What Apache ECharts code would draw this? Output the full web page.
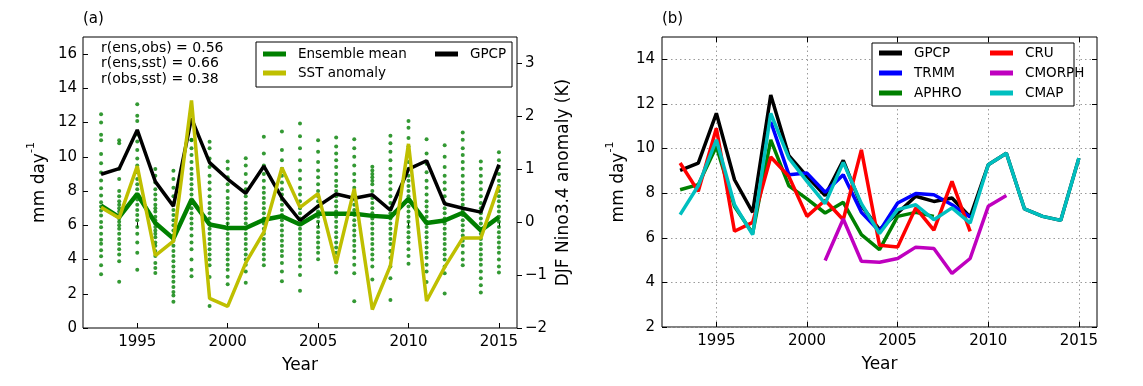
<!DOCTYPE html>
<html>
<head>
<meta charset="utf-8">
<script src="https://cdn.jsdelivr.net/npm/echarts@6/dist/echarts.min.js"></script>
<style>html,body{margin:0;padding:0;background:#fff}#c{width:1143px;height:386px}</style>
</head>
<body>
<div id="c"></div>
<script>
const years = [1993,1994,1995,1996,1997,1998,1999,2000,2001,2002,2003,2004,2005,2006,2007,2008,2009,2010,2011,2012,2013,2014,2015];
const xTicks = [1995,2000,2005,2010,2015];
const yTicksA = [0,2,4,6,8,10,12,14,16];
const yTicksSST = [-2,-1,0,1,2,3];
const yTicksB = [2,4,6,8,10,12,14];

// Panel (a)
const gpcpA = [8.98,9.31,11.57,8.55,7.12,12.25,9.66,8.7,7.87,9.45,7.6,6.28,7.12,7.83,7.58,7.78,6.88,9.28,9.77,7.26,7.0,6.77,9.55];
const ensMean = [7.15,6.48,7.83,6.13,5.22,7.5,6.05,5.84,5.84,6.32,6.53,6.05,6.67,6.67,6.67,6.55,6.48,7.54,6.13,6.28,6.73,5.7,6.48];
const sst = [0.28,0.08,1.06,-0.63,-0.36,2.3,-1.44,-1.59,-0.77,-0.19,1.03,0.28,0.54,-0.78,0.63,-1.65,-0.82,1.48,-1.49,-0.85,-0.3,-0.3,0.69];
const members = [
  [12.49,12.0,11.29,10.97,10.16,9.62,9.09,8.61,8.16,7.74,7.35,7.1,6.86,6.57,6.19,5.89,5.51,5.16,4.92,4.54,4.19,3.66,3.14],
  [10.97,10.8,9.3,8.7,8.0,7.7,7.4,7.2,7.0,6.8,6.6,6.4,6.2,6.0,5.8,5.5,5.2,4.9,4.6,4.3,3.9,2.7],
  [13.07,12.4,12.1,11.3,10.9,10.4,9.9,9.5,9.1,8.7,8.4,8.1,7.8,7.5,7.2,6.9,6.6,6.3,5.9,5.5,5.0,4.4,3.4],
  [9.29,8.9,8.5,8.1,7.8,7.5,7.2,7.0,6.8,6.5,6.3,6.1,5.9,5.7,5.5,5.3,5.0,4.8,4.5,4.2,3.8,3.5,3.22],
  [9.19,8.7,8.2,7.7,7.3,6.9,6.6,6.3,6.0,5.7,5.4,5.1,4.8,4.5,4.2,3.9,3.6,3.3,3.0,2.7,2.4,2.1,1.9,1.53],
  [11.0,10.97,10.5,10.1,9.7,9.3,9.0,8.7,8.4,8.1,7.8,7.5,7.3,7.0,6.7,6.4,6.1,5.8,5.4,5.0,4.6,4.0,3.4,3.02],
  [10.88,10.5,9.9,9.4,8.9,8.5,8.1,7.7,7.3,7.0,6.7,6.4,6.1,5.8,5.5,5.2,4.9,4.6,4.3,4.0,3.66,2.98,1.28],
  [9.73,9.3,8.8,8.4,8.0,7.6,7.3,7.0,6.7,6.4,6.1,5.8,5.5,5.2,4.9,4.6,4.3,4.0,3.7,3.4,3.0,2.56],
  [9.91,9.5,9.0,8.5,8.1,7.7,7.3,7.0,6.7,6.4,6.1,5.8,5.5,5.2,4.9,4.6,4.3,4.0,3.7,3.3,2.64],
  [11.17,10.2,9.5,9.0,8.6,8.2,7.9,7.6,7.3,7.0,6.7,6.4,6.1,5.8,5.5,5.2,4.9,4.6,4.3,4.0,3.66],
  [11.48,10.4,9.8,9.3,8.9,8.5,8.1,7.8,7.5,7.2,6.9,6.6,6.3,6.0,5.7,5.4,5.1,4.8,4.5,4.2,3.8,3.3,2.73],
  [11.94,11.2,10.5,9.8,9.2,8.7,8.2,7.8,7.4,7.0,6.7,6.4,6.1,5.8,5.5,5.2,4.9,4.6,4.3,4.0,3.6,3.1,2.17],
  [10.97,10.3,9.7,9.2,8.8,8.4,8.0,7.7,7.4,7.1,6.8,6.5,6.2,5.9,5.6,5.3,5.0,4.7,4.4,4.02],
  [11.13,10.6,10.2,9.8,9.4,9.0,8.6,8.3,8.0,7.7,7.4,7.1,6.8,6.5,6.2,5.9,5.6,5.3,5.0,4.7,4.4,4.0,3.6,3.24],
  [11.03,10.5,10.0,9.5,9.0,8.6,8.2,7.8,7.5,7.2,6.9,6.6,6.3,6.0,5.7,5.4,5.1,4.8,4.5,4.1,3.7,3.2,1.57],
  [9.42,9.2,9.0,8.8,8.6,8.4,8.0,7.6,7.3,7.0,6.7,6.4,6.1,5.8,5.5,5.2,4.9,4.6,4.3,4.0,3.6,2.83],
  [11.23,10.8,10.3,9.8,9.3,8.9,8.5,8.1,7.7,7.3,7.0,6.7,6.4,6.1,5.8,5.5,5.2,4.9,4.5,4.1,3.6,2.9,1.63],
  [12.1,11.7,11.1,10.6,10.1,9.7,9.3,8.9,8.6,8.3,8.0,7.7,7.4,7.1,6.8,6.5,6.2,5.9,5.6,5.3,5.0,4.6,4.2,3.76],
  [11.03,10.2,9.6,9.1,8.6,8.2,7.8,7.4,7.1,6.8,6.5,6.2,5.9,5.6,5.3,5.0,4.7,4.4,4.1,3.7,3.3,2.69],
  [10.68,10.0,9.4,8.9,8.5,8.1,7.7,7.3,7.0,6.7,6.4,6.1,5.8,5.5,5.2,4.9,4.6,4.3,4.0,3.6,3.2,2.02],
  [11.42,11.0,10.5,10.1,9.7,9.3,8.9,8.5,8.1,7.8,7.5,7.2,6.9,6.6,6.3,6.0,5.7,5.4,5.1,4.8,4.4,4.0,3.66],
  [9.73,9.3,8.9,8.5,8.1,7.7,7.3,7.0,6.7,6.4,6.1,5.8,5.5,5.2,4.9,4.6,4.3,4.0,3.7,3.3,2.9,2.5,2.08],
  [10.26,9.8,9.4,9.0,8.6,8.3,8.0,7.7,7.4,7.1,6.8,6.5,6.2,5.9,5.6,5.3,5.0,4.7,4.4,4.0,3.6,3.24]
];
const corrText = ['r(ens,obs) = 0.56','r(ens,sst) = 0.66','r(obs,sst) = 0.38'];

// Panel (b)
const gpcpB  = [9.02,9.35,11.58,8.6,7.14,12.4,9.68,8.75,7.89,9.47,7.44,6.37,7.11,7.86,7.63,7.78,6.93,9.27,9.79,7.29,6.96,6.78,9.57];
const trmmYears = [1998,1999,2000,2001,2002,2003,2004,2005,2006,2007,2008,2009];
const trmm   = [11.2,8.83,8.9,8.04,8.83,7.14,6.29,7.56,7.98,7.93,7.48,6.93];
const aphroYears = [1993,1994,1995,1996,1997,1998,1999,2000,2001,2002,2003,2004,2005,2006,2007];
const aphro  = [8.15,8.38,10.09,7.4,6.2,10.39,8.33,7.74,7.11,7.59,6.14,5.47,6.96,7.14,6.96];
const cruYears = [1993,1994,1995,1996,1997,1998,1999,2000,2001,2002,2003,2004,2005,2006,2007,2008,2009];
const cru    = [9.35,8.08,10.91,6.29,6.69,9.62,8.75,6.96,7.68,6.81,9.94,5.66,5.59,7.34,6.34,8.53,6.29];
const cmorphYears = [2001,2002,2003,2004,2005,2006,2007,2008,2009,2010,2011];
const cmorph = [4.98,6.84,4.95,4.9,5.07,5.58,5.52,4.4,5.07,7.41,7.89];
const cmap   = [7.04,8.33,10.39,7.48,6.14,11.58,9.57,8.53,7.53,9.38,7.53,6.19,7.26,7.48,6.81,7.34,6.66,9.27,9.79,7.29,6.96,6.78,9.57];

const FONT = 'DejaVu Sans';
const pair = (xs, ys) => xs.map((x, i) => [x, ys[i]]);
const memberPts = [];
members.forEach((arr, i) => arr.forEach(v => memberPts.push([years[i], v])));

const xBase = (gridIndex, pos, withLabel, grid) => ({
  type: 'value', gridIndex, position: pos, min: 1992, max: 2016,
  axisLine: { show: false },
  axisTick: { show: true, inside: true, length: 5, customValues: xTicks, lineStyle: { color: '#000' } },
  axisLabel: { show: withLabel, customValues: xTicks, margin: 7, fontSize: 15, fontFamily: FONT, color: '#000',
               formatter: v => String(v) },
  splitLine: { show: !!grid, lineStyle: { color: '#9a9a9a', type: [1.5, 3], width: 1 } },
  name: withLabel ? 'Year' : '', nameLocation: 'middle', nameGap: 29,
  nameTextStyle: { fontSize: 17, fontFamily: FONT, color: '#000' }
});

const nameRich = { a: { fontSize: 17, fontFamily: FONT, color: '#000', verticalAlign: 'bottom', lineHeight: 22 },
                   b: { fontSize: 11, fontFamily: FONT, color: '#000', verticalAlign: 'top', lineHeight: 22 } };

const legendItem = (name, left, cy) => ({
  data: [name], left, top: cy - 7, padding: 0, icon: 'rect', itemWidth: 23, itemHeight: 5,
  selectedMode: false, z: 60,
  textStyle: { fontSize: 13.5, fontFamily: FONT, color: '#000', padding: [0, 0, 0, 7] }
});

const lineSeries = (name, data, color, width, xi, yi, z) => ({
  name, type: 'line', data, xAxisIndex: xi, yAxisIndex: yi, showSymbol: false, symbol: 'none',
  color, lineStyle: { color, width }, z: z || 2, silent: true
});

const option = {
  animation: false,
  backgroundColor: '#fff',
  grid: [
    { left: 83, top: 37, width: 434, height: 291, show: true, borderColor: '#000', borderWidth: 1, backgroundColor: 'transparent' },
    { left: 662, top: 37, width: 435, height: 290, show: true, borderColor: '#000', borderWidth: 1, backgroundColor: 'transparent' }
  ],
  xAxis: [
    xBase(0, 'bottom', true, false),
    xBase(0, 'top', false, false),
    xBase(1, 'bottom', true, true),
    xBase(1, 'top', false, false)
  ],
  yAxis: [
    { type: 'value', gridIndex: 0, position: 'left', min: 0, max: 17,
      axisLine: { show: false },
      axisTick: { inside: true, length: 5, customValues: yTicksA, lineStyle: { color: '#000' } },
      axisLabel: { customValues: yTicksA, margin: 6, fontSize: 15, fontFamily: FONT, color: '#000' },
      splitLine: { show: false },
      name: '{a|mm day}{b|-1}', nameLocation: 'middle', nameGap: 35, nameTextStyle: { rich: nameRich } },
    { type: 'value', gridIndex: 0, position: 'right', min: -2, max: 3.5,
      axisLine: { show: false },
      axisTick: { inside: false, length: 5, customValues: yTicksSST, lineStyle: { color: '#000' } },
      axisLabel: { customValues: yTicksSST, margin: 8, fontSize: 15, fontFamily: FONT, color: '#000',
                   formatter: v => (v < 0 ? '\u2212' + Math.abs(v) : String(v)) },
      splitLine: { show: false },
      name: 'DJF Nino3.4 anomaly (K)', nameLocation: 'middle', nameGap: 38,
      nameTextStyle: { fontSize: 17, fontFamily: FONT, color: '#000' } },
    { type: 'value', gridIndex: 1, position: 'left', min: 2, max: 15,
      axisLine: { show: false },
      axisTick: { inside: true, length: 5, customValues: yTicksB, lineStyle: { color: '#000' } },
      axisLabel: { customValues: yTicksB, margin: 7, fontSize: 15, fontFamily: FONT, color: '#000' },
      splitLine: { show: true, lineStyle: { color: '#9a9a9a', type: [1.5, 3], width: 1 } },
      name: '{a|mm day}{b|-1}', nameLocation: 'middle', nameGap: 35, nameTextStyle: { rich: nameRich } },
    { type: 'value', gridIndex: 1, position: 'right', min: 2, max: 15,
      axisLine: { show: false },
      axisTick: { inside: true, length: 5, customValues: yTicksB, lineStyle: { color: '#000' } },
      axisLabel: { show: false },
      splitLine: { show: false } }
  ],
  legend: [
    legendItem('Ensemble mean', 263, 54),
    legendItem('SST anomaly', 263, 73),
    legendItem('GPCP', 435, 54),
    legendItem('GPCP', 879, 53),
    legendItem('TRMM', 879, 73),
    legendItem('APHRO', 879, 93),
    legendItem('CRU', 990, 53),
    legendItem('CMORPH', 990, 73),
    legendItem('CMAP', 990, 93)
  ],
  graphic: [
    { type: 'text', left: 83, top: 12, style: { text: '(a)', fontSize: 15, fontFamily: FONT, fill: '#000' } },
    { type: 'text', left: 662, top: 12, style: { text: '(b)', fontSize: 15, fontFamily: FONT, fill: '#000' } },
    { type: 'text', left: 101, top: 41, style: { text: corrText[0], fontSize: 14, fontFamily: FONT, fill: '#000' } },
    { type: 'text', left: 101, top: 56, style: { text: corrText[1], fontSize: 14, fontFamily: FONT, fill: '#000' } },
    { type: 'text', left: 101, top: 72, style: { text: corrText[2], fontSize: 14, fontFamily: FONT, fill: '#000' } },
    { type: 'rect', z: 20, shape: { x: 256, y: 42, width: 256, height: 45 },
      style: { fill: '#fff', stroke: '#000', lineWidth: 1 } },
    { type: 'rect', z: 20, shape: { x: 872, y: 43, width: 202, height: 63 },
      style: { fill: '#fff', stroke: '#000', lineWidth: 1 } }
  ],
  series: [
    { name: 'members', type: 'scatter', data: memberPts, xAxisIndex: 0, yAxisIndex: 0,
      symbol: 'circle', symbolSize: 4, itemStyle: { color: '#008000' }, silent: true, z: 1 },
    lineSeries('Ensemble mean', pair(years, ensMean), '#008000', 4.5, 0, 0, 2),
    lineSeries('GPCP', pair(years, gpcpA), '#000000', 3.5, 0, 0, 3),
    lineSeries('SST anomaly', pair(years, sst), '#bfbf00', 3.5, 0, 1, 4),

    lineSeries('GPCP', pair(years, gpcpB), '#000000', 3.5, 2, 2, 2),
    lineSeries('TRMM', pair(trmmYears, trmm), '#0000ff', 3.5, 2, 2, 3),
    lineSeries('APHRO', pair(aphroYears, aphro), '#008000', 3.5, 2, 2, 4),
    lineSeries('CRU', pair(cruYears, cru), '#ff0000', 3.5, 2, 2, 5),
    lineSeries('CMORPH', pair(cmorphYears, cmorph), '#bf00bf', 3.5, 2, 2, 6),
    lineSeries('CMAP', pair(years, cmap), '#00bfbf', 3.5, 2, 2, 7)
  ]
};

const chart = echarts.init(document.getElementById('c'), null, { renderer: 'canvas' });
chart.setOption(option);
</script>
</body>
</html>
